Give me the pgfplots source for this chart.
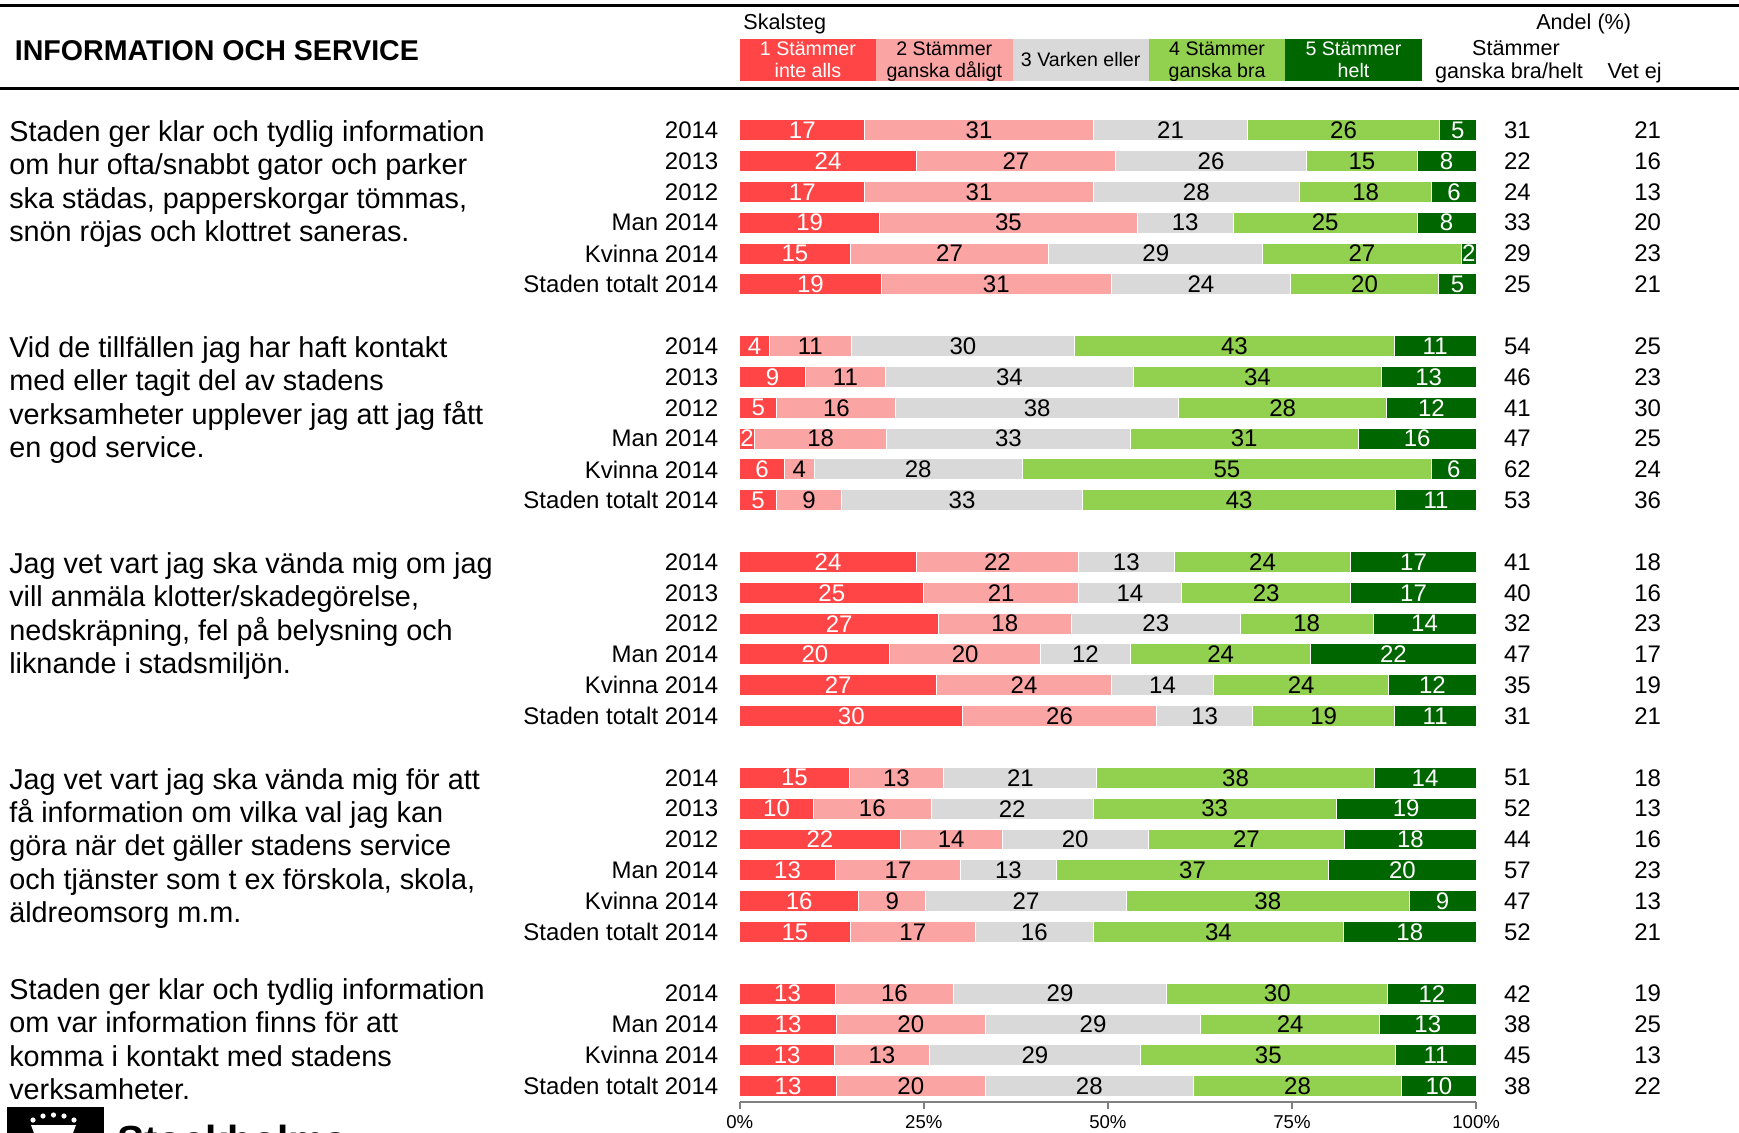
\documentclass[border=0pt]{standalone}
\usepackage{pgfplots}
\pgfplotsset{compat=1.18}
\usepackage{pgfplotstable}
\usepackage{fontspec}
\setmainfont{Liberation Sans}

\definecolor{c1}{RGB}{255,69,69}
\definecolor{c2}{RGB}{250,164,164}
\definecolor{c3}{RGB}{217,217,217}
\definecolor{c4}{RGB}{146,208,80}
\definecolor{c5}{RGB}{0,102,0}

\newcommand\fq{\fontsize{14.4}{16.6}\selectfont}
\newcommand\fb{\fontsize{12}{14}\selectfont}
\newcommand\fh{\fontsize{10.8}{12.5}\selectfont}
\newcommand\fl{\fontsize{9.8}{11.5}\selectfont}

% row a b c d e = scale steps 1..5, sb = agree fairly/fully, ve = don't know
\pgfplotstableread{
row a b c d e sb ve
0 17 31 21 26 5 31 21
1 24 27 26 15 8 22 16
2 17 31 28 18 6 24 13
3 19 35 13 25 8 33 20
4 15 27 29 27 2 29 23
5 19 31 24 20 5 25 21
7 4 11 30 43 11 54 25
8 9 11 34 34 13 46 23
9 5 16 38 28 12 41 30
10 2 18 33 31 16 47 25
11 6 4 28 55 6 62 24
12 5 9 33 43 11 53 36
14 24 22 13 24 17 41 18
15 25 21 14 23 17 40 16
16 27 18 23 18 14 32 23
17 20 20 12 24 22 47 17
18 27 24 14 24 12 35 19
19 30 26 13 19 11 31 21
21 15 13 21 38 14 51 18
22 10 16 22 33 19 52 13
23 22 14 20 27 18 44 16
24 13 17 13 37 20 57 23
25 16 9 27 38 9 47 13
26 15 17 16 34 18 52 21
28 13 16 29 30 12 42 19
29 13 20 29 24 13 38 25
30 13 13 29 35 11 45 13
31 13 20 28 28 10 38 22
}\data

% shares of the row total, so every bar ends at 100
\newcommand\tot{(\thisrow{a}+\thisrow{b}+\thisrow{c}+\thisrow{d}+\thisrow{e})}

\newcommand\qline[2]{\node[anchor=base west,inner sep=0pt,font=\fq] at (8.9,#1) {#2};}

\begin{document}
\begin{tikzpicture}
\path[use as bounding box] (0,0) rectangle (869.5pt,-566.5pt);
\begin{scope}[x=0.5pt,y=-0.5pt]
  % rules
  \draw[line width=1.2pt] (0,5.5) -- (1739,5.5);
  \draw[line width=1.2pt] (0,88.7) -- (1739,88.7);
  \node[anchor=base west,inner sep=0pt,font=\fontsize{14.3}{16}\selectfont\bfseries] at (14.4,60.2) {INFORMATION OCH SERVICE};
  % legend
  \node[anchor=base west,inner sep=0pt,font=\fh] at (743,29.7) {Skalsteg};
  \fill[c1] (739.7,38.8) rectangle ++(136.4,42.2);
  \fill[c2] (876.1,38.8) rectangle ++(136.4,42.2);
  \fill[c3] (1012.5,38.8) rectangle ++(136.4,42.2);
  \fill[c4] (1148.9,38.8) rectangle ++(136.4,42.2);
  \fill[c5] (1285.3,38.8) rectangle ++(136.4,42.2);
  \begin{scope}[every node/.style={anchor=base,inner sep=0pt,font=\fl}]
    \node[text=white] at (807.9,55.6) {1 Stämmer};
    \node[text=white] at (807.9,77.4) {inte alls};
    \node at (944.3,55.6) {2 Stämmer};
    \node at (944.3,77.4) {ganska dåligt};
    \node at (1080.7,66.6) {3 Varken eller};
    \node at (1217.1,55.6) {4 Stämmer};
    \node at (1217.1,77.4) {ganska bra};
    \node[text=white] at (1353.5,55.6) {5 Stämmer};
    \node[text=white] at (1353.5,77.4) {helt};
  \end{scope}
  \begin{scope}[every node/.style={anchor=base,inner sep=0pt,font=\fh}]
    \node at (1583.7,29.7) {Andel (\%)};
    \node at (1516,55.4) {Stämmer};
    \node at (1509,78.5) {ganska bra/helt};
    \node at (1634.7,78.5) {Vet ej};
  \end{scope}
  % questions
  \qline{141.7}{Staden ger klar och tydlig information}
  \qline{175.0}{om hur ofta/snabbt gator och parker}
  \qline{208.2}{ska städas, papperskorgar tömmas,}
  \qline{241.5}{snön röjas och klottret saneras.}
  \qline{357.6}{Vid de tillfällen jag har haft kontakt}
  \qline{390.9}{med eller tagit del av stadens}
  \qline{424.2}{verksamheter upplever jag att jag fått}
  \qline{457.4}{en god service.}
  \qline{573.5}{Jag vet vart jag ska vända mig om jag}
  \qline{606.8}{vill anmäla klotter/skadegörelse,}
  \qline{640.0}{nedskräpning, fel på belysning och}
  \qline{673.3}{liknande i stadsmiljön.}
  \qline{789.3}{Jag vet vart jag ska vända mig för att}
  \qline{822.6}{få information om vilka val jag kan}
  \qline{855.9}{göra när det gäller stadens service}
  \qline{889.1}{och tjänster som t ex förskola, skola,}
  \qline{922.4}{äldreomsorg m.m.}
  \qline{999.4}{Staden ger klar och tydlig information}
  \qline{1032.7}{om var information finns för att}
  \qline{1066.0}{komma i kontakt med stadens}
  \qline{1099.2}{verksamheter.}
  % logo
  \fill[black] (7.3,1107) rectangle (104,1140);
  \fill[white] (31,1125) -- (76,1125) -- (73,1133) -- (34,1133) -- cycle;
  \foreach \cx/\cy in {33/1120,43/1116,53.5/1115,64/1116,74/1120}
    \fill[white] (\cx,\cy) circle (2.6);
  \node[anchor=base west,inner sep=0pt,font=\fontsize{20.3}{22}\selectfont\bfseries] at (116.7,1154) {Stockholms};
\end{scope}

\begin{axis}[
  at={(369.85pt,-550.8pt)}, anchor=south west,
  scale only axis, width=368.2pt, height=493.4pt,
  xmin=0, xmax=100, ymin=-31.5, ymax=0.5,
  axis x line*=bottom, axis y line*=left,
  y axis line style={draw=none}, ytick style={draw=none},
  x axis line style={draw=gray, line width=0.9pt},
  xtick style={draw=gray, line width=0.9pt},
  xtick align=outside, major tick length=3.5pt,
  xtick={0,25,50,75,100},
  xticklabels={0\%,25\%,50\%,75\%,100\%},
  xticklabel style={font=\fontsize{9.3}{11}\selectfont},
  /pgf/number format/assume math mode=true,
  ytick={-31,-30,-29,-28,-26,-25,-24,-23,-22,-21,-19,-18,-17,-16,-15,-14,-12,-11,-10,-9,-8,-7,-5,-4,-3,-2,-1,0},
  yticklabels={Staden totalt 2014,Kvinna 2014,Man 2014,2014,
    Staden totalt 2014,Kvinna 2014,Man 2014,2012,2013,2014,
    Staden totalt 2014,Kvinna 2014,Man 2014,2012,2013,2014,
    Staden totalt 2014,Kvinna 2014,Man 2014,2012,2013,2014,
    Staden totalt 2014,Kvinna 2014,Man 2014,2012,2013,2014},
  yticklabel style={font=\fb, anchor=east, inner sep=0pt, xshift=-10.5pt},
  clip=false,
]
\addplot[xbar, bar shift=0pt, bar width=0.68, fill=c5, draw=white, line width=0.5pt]
  table[x expr=100, y expr=-\thisrow{row}] {\data};
\addplot[xbar, bar shift=0pt, bar width=0.68, fill=c4, draw=white, line width=0.5pt]
  table[x expr=100*(\thisrow{a}+\thisrow{b}+\thisrow{c}+\thisrow{d})/\tot, y expr=-\thisrow{row}] {\data};
\addplot[xbar, bar shift=0pt, bar width=0.68, fill=c3, draw=white, line width=0.5pt]
  table[x expr=100*(\thisrow{a}+\thisrow{b}+\thisrow{c})/\tot, y expr=-\thisrow{row}] {\data};
\addplot[xbar, bar shift=0pt, bar width=0.68, fill=c2, draw=white, line width=0.5pt]
  table[x expr=100*(\thisrow{a}+\thisrow{b})/\tot, y expr=-\thisrow{row}] {\data};
\addplot[xbar, bar shift=0pt, bar width=0.68, fill=c1, draw=white, line width=0.5pt]
  table[x expr=100*\thisrow{a}/\tot, y expr=-\thisrow{row}] {\data};

\pgfplotsset{lbl/.style={only marks, mark=none, nodes near coords, point meta=explicit,
  every node near coord/.append style={anchor=center, inner sep=0pt, font=\fb, text=#1}}}
\addplot[lbl=white] table[x expr=100*(\thisrow{a}/2)/\tot, y expr=-\thisrow{row}, meta=a] {\data};
\addplot[lbl=black] table[x expr=100*(\thisrow{a}+\thisrow{b}/2)/\tot, y expr=-\thisrow{row}, meta=b] {\data};
\addplot[lbl=black] table[x expr=100*(\thisrow{a}+\thisrow{b}+\thisrow{c}/2)/\tot, y expr=-\thisrow{row}, meta=c] {\data};
\addplot[lbl=black] table[x expr=100*(\thisrow{a}+\thisrow{b}+\thisrow{c}+\thisrow{d}/2)/\tot, y expr=-\thisrow{row}, meta=d] {\data};
\addplot[lbl=white] table[x expr=100*(\thisrow{a}+\thisrow{b}+\thisrow{c}+\thisrow{d}+\thisrow{e}/2)/\tot, y expr=-\thisrow{row}, meta=e] {\data};
\addplot[lbl=black] table[x expr=105.6, y expr=-\thisrow{row}, meta=sb] {\data};
\addplot[lbl=black] table[x expr=123.3, y expr=-\thisrow{row}, meta=ve] {\data};
\end{axis}
\end{tikzpicture}
\end{document}
